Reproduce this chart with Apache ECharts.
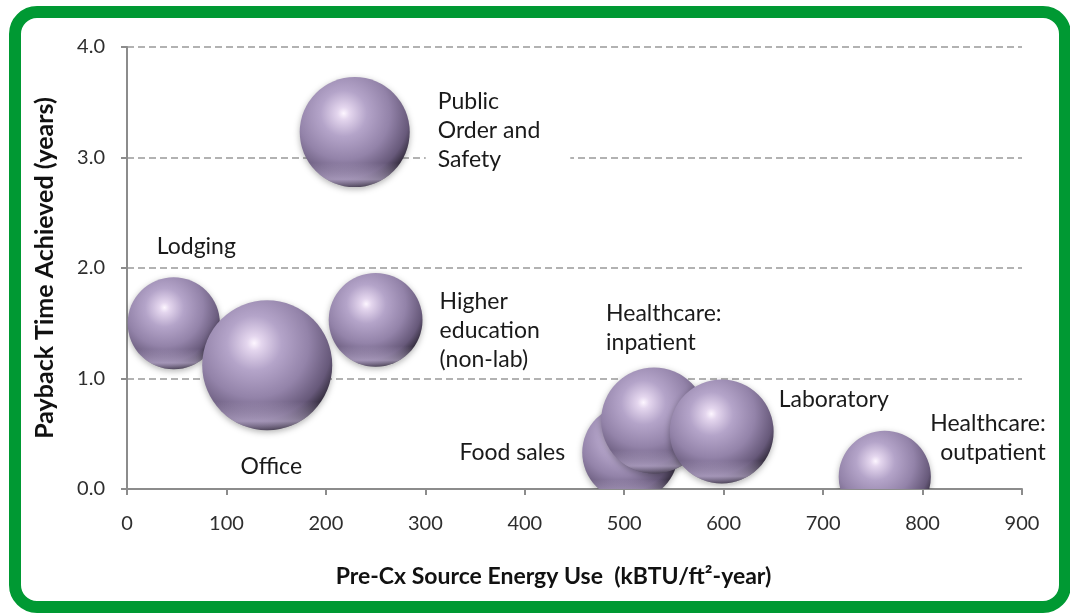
<!DOCTYPE html>
<html>
<head>
<meta charset="utf-8">
<script src="https://cdn.jsdelivr.net/npm/echarts@6/dist/echarts.min.js"></script>
<style>
html, body { margin: 0; padding: 0; background: #fff; }
#main { width: 1070px; height: 615px; }
</style>
</head>
<body>
<div id="main"></div>
<script>
// building types, drawn left to right (later ones sit on top)
var sectors = ['Lodging', 'Office', 'Public\nOrder and\nSafety', 'Higher\neducation\n(non-lab)',
    'Food sales', 'Healthcare:\ninpatient', 'Laboratory', 'Healthcare:\noutpatient'];
var energyUse = [47, 141, 229, 250, 506, 530, 598, 762];      // kBTU/ft2-year
var payback = [1.50, 1.12, 3.23, 1.53, 0.33, 0.62, 0.52, 0.11]; // years
var bubbleSize = [85, 169, 121, 88, 92, 112, 108, 85];

// where each label sits relative to its bubble (px)
var labelLayout = [
    {dx: -17, dy: -77, align: 'left'},
    {dx: 4, dy: 101, align: 'center'},
    {dx: 71, dy: -2, align: 'left', box: true},
    {dx: 64, dy: 11, align: 'left'},
    {dx: -65, dy: 0, align: 'right'},
    {dx: -48, dy: -92, align: 'left'},
    {dx: 57, dy: -32, align: 'left'},
    {dx: 161, dy: -39, align: 'right'}
];

var data = energyUse.map(function (x, i) {
    return [x, payback[i], bubbleSize[i]];
});

var sphereFill = new echarts.graphic.RadialGradient(0.4, 0.33, 0.7, [
    {offset: 0, color: '#fdf6ff'},
    {offset: 0.08, color: '#e4d6ee'},
    {offset: 0.3, color: '#b4a4c9'},
    {offset: 0.6, color: '#9383a9'},
    {offset: 0.85, color: '#67597a'},
    {offset: 1, color: '#2b2533'}
]);
var rimFill = new echarts.graphic.LinearGradient(0, 0, 0, 1, [
    {offset: 0, color: 'rgba(215,200,235,0)'},
    {offset: 0.78, color: 'rgba(215,200,235,0)'},
    {offset: 0.93, color: 'rgba(215,200,235,0.55)'},
    {offset: 1, color: 'rgba(215,200,235,0.15)'}
]);

var mChart = echarts.init(document.getElementById('main'));
var font = 'Lato, "Open Sans", sans-serif';

var option = {
    animation: false,
    graphic: [{
        type: 'rect',
        shape: {x: 15, y: 12, width: 1050, height: 595, r: 22},
        style: {fill: 'none', stroke: '#009933', lineWidth: 12},
        z: -1
    }],
    grid: {left: 127, right: 48, top: 47, bottom: 126},
    xAxis: {
        type: 'value',
        min: 0,
        max: 900,
        interval: 100,
        name: 'Pre-Cx Source Energy Use  (kBTU/ft\u00b2-year)',
        nameLocation: 'middle',
        nameGap: 76,
        nameTextStyle: {fontFamily: font, fontWeight: 'bold', fontSize: 23, color: '#111', padding: [0, 42, 0, 0]},
        axisLine: {lineStyle: {color: '#8c8c8c', width: 2}},
        axisTick: {length: 6, lineStyle: {color: '#8c8c8c', width: 2}},
        axisLabel: {fontFamily: font, fontSize: 20, color: '#2e2e2e', margin: 25},
        splitLine: {show: false}
    },
    yAxis: {
        type: 'value',
        min: 0,
        max: 4,
        interval: 1,
        name: 'Payback Time Achieved (years)',
        nameLocation: 'middle',
        nameGap: 70,
        nameTextStyle: {fontFamily: font, fontWeight: 'bold', fontSize: 25, color: '#111'},
        axisLine: {show: true, lineStyle: {color: '#8c8c8c', width: 2}},
        axisTick: {show: true, length: 6, lineStyle: {color: '#8c8c8c', width: 2}},
        axisLabel: {
            fontFamily: font, fontSize: 20, color: '#2e2e2e', margin: 22,
            formatter: function (v) { return v.toFixed(1); }
        },
        splitLine: {lineStyle: {color: '#999', type: [7, 4], width: 1.5}}
    },
    series: [{
        name: 'bubbles',
        type: 'custom',
        clip: true,
        data: data,
        encode: {x: 0, y: 1},
        renderItem: function (params, api) {
            var p = api.coord([api.value(0), api.value(1)]);
            var r = 5 * Math.sqrt(api.value(2));
            return {
                type: 'group',
                children: [{
                    type: 'circle',
                    shape: {cx: p[0], cy: p[1], r: r},
                    style: {fill: sphereFill, shadowBlur: 6, shadowOffsetY: 2, shadowColor: 'rgba(0,0,0,0.3)'}
                }, {
                    type: 'circle',
                    shape: {cx: p[0], cy: p[1], r: r},
                    style: {fill: rimFill}
                }]
            };
        }
    }, {
        name: 'labels',
        type: 'custom',
        clip: false,
        data: data,
        encode: {x: 0, y: 1},
        z: 1,
        renderItem: function (params, api) {
            var p = api.coord([api.value(0), api.value(1)]);
            var lay = labelLayout[params.dataIndex];
            var st = {
                text: sectors[params.dataIndex],
                font: '23px ' + font,
                fill: '#1a1a1a',
                align: lay.align,
                verticalAlign: 'middle',
                lineHeight: 29
            };
            if (lay.box) {
                st.backgroundColor = '#fff';
                st.padding = [2, 30, 2, 12];
            }
            return {type: 'text', x: p[0] + lay.dx, y: p[1] + lay.dy, style: st};
        }
    }]
};
mChart.setOption(option);
</script>
</body>
</html>
